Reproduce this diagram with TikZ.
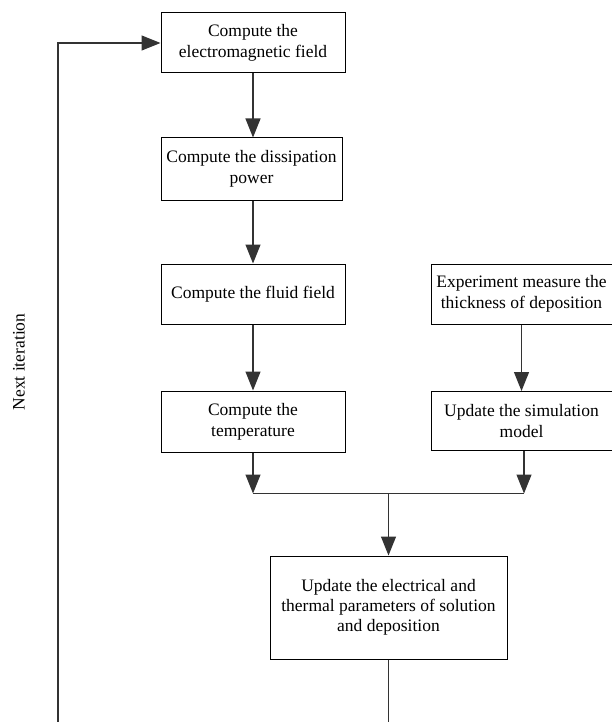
\documentclass[tikz,border=0pt]{standalone}
\usepackage{fontspec}
\setmainfont{Liberation Serif}
\usepackage{tikz}
\usetikzlibrary{shapes,arrows.meta,positioning,calc}
\tikzstyle{stage} = [draw, fill=white, rectangle, line width=1pt, align=center,
inner sep=2pt, minimum height=61pt, minimum width=184pt]
\tikzstyle{flow} = [line width=1.2pt, draw=black!80]
\tikzstyle{label} = []

\begin{document}
\begin{tikzpicture}[x=1pt, y=-1pt, >={Triangle[length=19pt,width=15pt]},
	font=\fontsize{17.5}{21}\selectfont]
		\useasboundingbox (0,0) rectangle (611,722);
		\node(emfield)[stage, minimum height=60pt] at (253,43){Compute the\\electromagnetic field};
		\node(dissip)[stage, below=64pt of emfield, minimum width=181pt, minimum height=62pt, xshift=-1.5pt]{Compute the dissipation\\power};
		\node(fluid)[stage, below=63pt of emfield.south |- dissip.south, minimum height=60pt]{Compute the fluid field};
		\node(temp)[stage, below=66pt of fluid]{Compute the\\temperature};
		\node(expmeas)[stage, right=85pt of fluid, minimum width=181pt, minimum height=60pt]{Experiment measure the\\thickness of deposition};
		\node(simmodel)[stage, below=66pt of expmeas, minimum width=181pt, minimum height=59pt, yshift=-0.5pt]{Update the simulation\\model};
		
		\draw[flow, ->] (emfield) -- (dissip.north -| emfield);
		\draw[flow, ->] (dissip.south -| emfield) -- (fluid);
		\draw[flow, ->] (fluid) -- (temp);
		\draw[flow, ->] (expmeas) -- (simmodel);
		
		\coordinate[below=41pt of temp.south](joinL);
		\coordinate(joinR) at ($(simmodel.south |- joinL)+(2.5pt,0)$);
		\coordinate(joinM) at ($(joinL)!0.5!(joinR)$);
		\node(update)[stage, below=62pt of joinM, minimum width=237pt, minimum height=103pt,
		font=\fontsize{17.5}{20}\selectfont]{Update the electrical and\\thermal parameters of solution\\and deposition};
		
		\draw[flow, ->] (temp) -- (joinL);
		\draw[flow, ->] (simmodel.south -| joinR) -- (joinR);
		\draw[flow] (joinL) -- (joinR);
		\draw[flow, ->] (joinM) -- (update);
		
		\coordinate(loopL) at (58,722);
		\coordinate(loopR) at (update.south |- loopL);
		\draw[flow] (update) -- (loopR);
		\draw[flow, ->] (loopL) |- (emfield);
		\node(nextit)[label, rotate=90] at (19,362){Next iteration};
\end{tikzpicture}
\end{document}
